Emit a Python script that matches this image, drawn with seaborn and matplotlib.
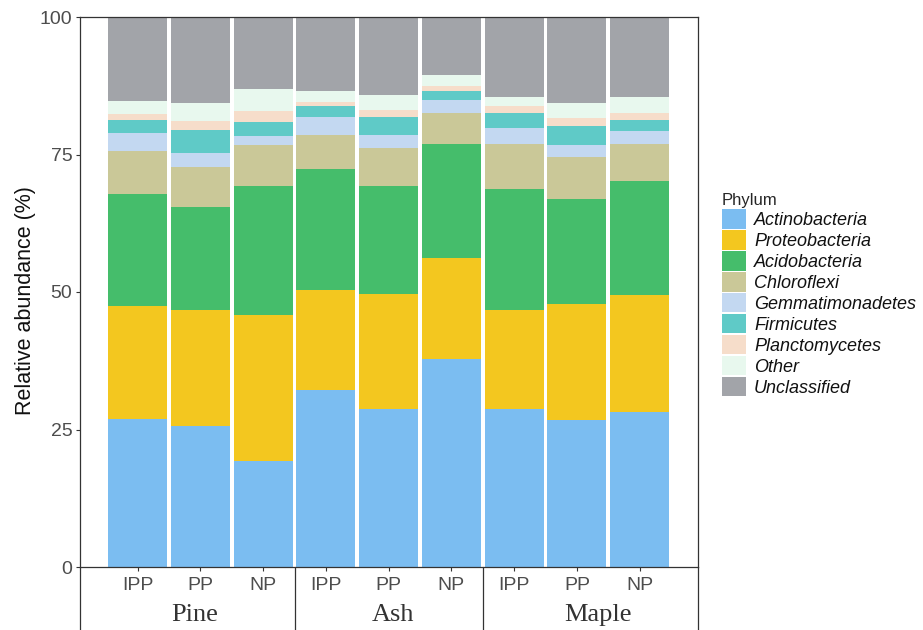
import matplotlib
matplotlib.use("Agg")
import matplotlib.pyplot as plt
import matplotlib.transforms as mtransforms
from matplotlib.patches import Patch
import numpy as np
import pandas as pd
import seaborn as sns

# ---- data -------------------------------------------------------------
hosts = ["Pine", "Ash", "Maple"]
treatments = ["IPP", "PP", "NP"]
phyla = ["Actinobacteria", "Proteobacteria", "Acidobacteria", "Chloroflexi",
         "Gemmatimonadetes", "Firmicutes", "Planctomycetes", "Other", "Unclassified"]

# relative abundance (%) per sample:
# Pine IPP/PP/NP, Ash IPP/PP/NP, Maple IPP/PP/NP
actinobacteria   = [27.0, 25.6, 19.3, 32.1, 28.7, 37.8, 28.7, 26.7, 28.1]
proteobacteria   = [20.5, 21.1, 26.6, 18.2, 20.9, 18.3, 18.0, 21.2, 21.4]
acidobacteria    = [20.4, 18.8, 23.4, 22.0, 19.7, 20.8, 22.0, 19.0, 20.6]
chloroflexi      = [7.8, 7.2, 7.4, 6.3, 6.8, 5.7, 8.2, 7.6, 6.9]
gemmatimonadetes = [3.2, 2.5, 1.7, 3.2, 2.5, 2.4, 2.9, 2.3, 2.3]
firmicutes       = [2.3, 4.2, 2.6, 2.1, 3.2, 1.6, 2.7, 3.3, 2.0]
planctomycetes   = [1.2, 1.7, 1.9, 0.6, 1.3, 0.9, 1.3, 1.5, 1.2]
other            = [2.4, 3.3, 4.1, 2.0, 2.7, 1.9, 1.7, 2.8, 3.0]
unclassified     = [15.2, 15.6, 13.0, 13.5, 14.2, 10.6, 14.5, 15.6, 14.5]

colors = ["#7BBDF1", "#F3C71F", "#45BD6B", "#CAC898", "#C3D8F1",
          "#5FCAC7", "#F6DDCA", "#E8F8EE", "#A2A4A9"]

# ---- long table with stacked tops --------------------------------------
series = [actinobacteria, proteobacteria, acidobacteria, chloroflexi,
          gemmatimonadetes, firmicutes, planctomycetes, other, unclassified]
samples = [f"{h} {t}" for h in hosts for t in treatments]
rows = []
for name, vals in zip(phyla, series):
    for s, v in zip(samples, vals):
        rows.append({"sample": s, "phylum": name, "abundance": v})
df = pd.DataFrame(rows)
df["phylum"] = pd.Categorical(df["phylum"], categories=phyla, ordered=True)
df = df.sort_values(["sample", "phylum"])
df["top"] = df.groupby("sample", observed=True)["abundance"].cumsum()

# ---- figure -------------------------------------------------------------
sns.set_style("white")
plt.rcParams["font.family"] = ["Liberation Sans", "DejaVu Sans"]

W, H = 923, 630
fig = plt.figure(figsize=(W / 100, H / 100), dpi=100)
ax = fig.add_axes([80 / W, 63 / H, 618 / W, 550 / H])

# draw cumulative tops from the outermost layer inwards
for name, col in zip(phyla[::-1], colors[::-1]):
    sub = df[df["phylum"] == name]
    sns.barplot(data=sub, x="sample", y="top", order=samples, color=col,
                saturation=1, width=0.94, errorbar=None, linewidth=0,
                edgecolor="none", ax=ax)

ax.set_xlim(-0.92, 8.93)
ax.set_ylim(0, 100)
ax.set_yticks([0, 25, 50, 75, 100])
ax.set_xticks(range(len(samples)))
ax.set_xticklabels(treatments * len(hosts))
ax.set_xlabel("")
ax.set_ylabel("Relative abundance (%)", fontsize=15.5, color="#111111")
ax.yaxis.set_label_coords(-0.071, 0.484)

for sp in ax.spines.values():
    sp.set_visible(True)
    sp.set_color("#333333")
    sp.set_linewidth(0.9)

ax.tick_params(axis="y", direction="out", length=3, width=0.8, color="#333333",
               labelsize=14, labelcolor="#4D4D4D", pad=2.5, left=True)
ax.tick_params(axis="x", direction="out", length=3, width=0.8, color="#333333",
               labelsize=14, labelcolor="#4D4D4D", pad=4, bottom=True)

# group separators and host labels below the axis
trans = mtransforms.blended_transform_factory(ax.transData, ax.transAxes)
y_end = -70 / 550
for xs in [2.5, 5.5]:
    ax.plot([xs, xs], [0, y_end], transform=trans, color="#333333",
            lw=0.9, clip_on=False)
for xa in [0, 1]:
    ax.plot([xa, xa], [0, y_end], transform=ax.transAxes, color="#333333",
            lw=0.9, clip_on=False)
host_pos = [0.9, 4.07, 7.34]
for xp, h in zip(host_pos, hosts):
    ax.text(xp, -54 / 550, h, transform=trans, ha="center",
            va="baseline", fontsize=19, family="Liberation Serif",
            color="#333333")

# legend
handles = [Patch(facecolor=c, edgecolor="none") for c in colors]
leg = fig.legend(handles, phyla, loc="upper left",
                 bbox_to_anchor=(722 / W, 1 - 193 / H), frameon=False,
                 title="Phylum", title_fontsize=12, alignment="left",
                 prop={"style": "italic", "size": 13},
                 handlelength=1.33, handleheight=1.284, handletextpad=0.44,
                 labelspacing=0.064, borderpad=0, borderaxespad=0)
for t in leg.get_texts():
    t.set_color("#111111")

fig.savefig("out.png", dpi=100, facecolor="white")
